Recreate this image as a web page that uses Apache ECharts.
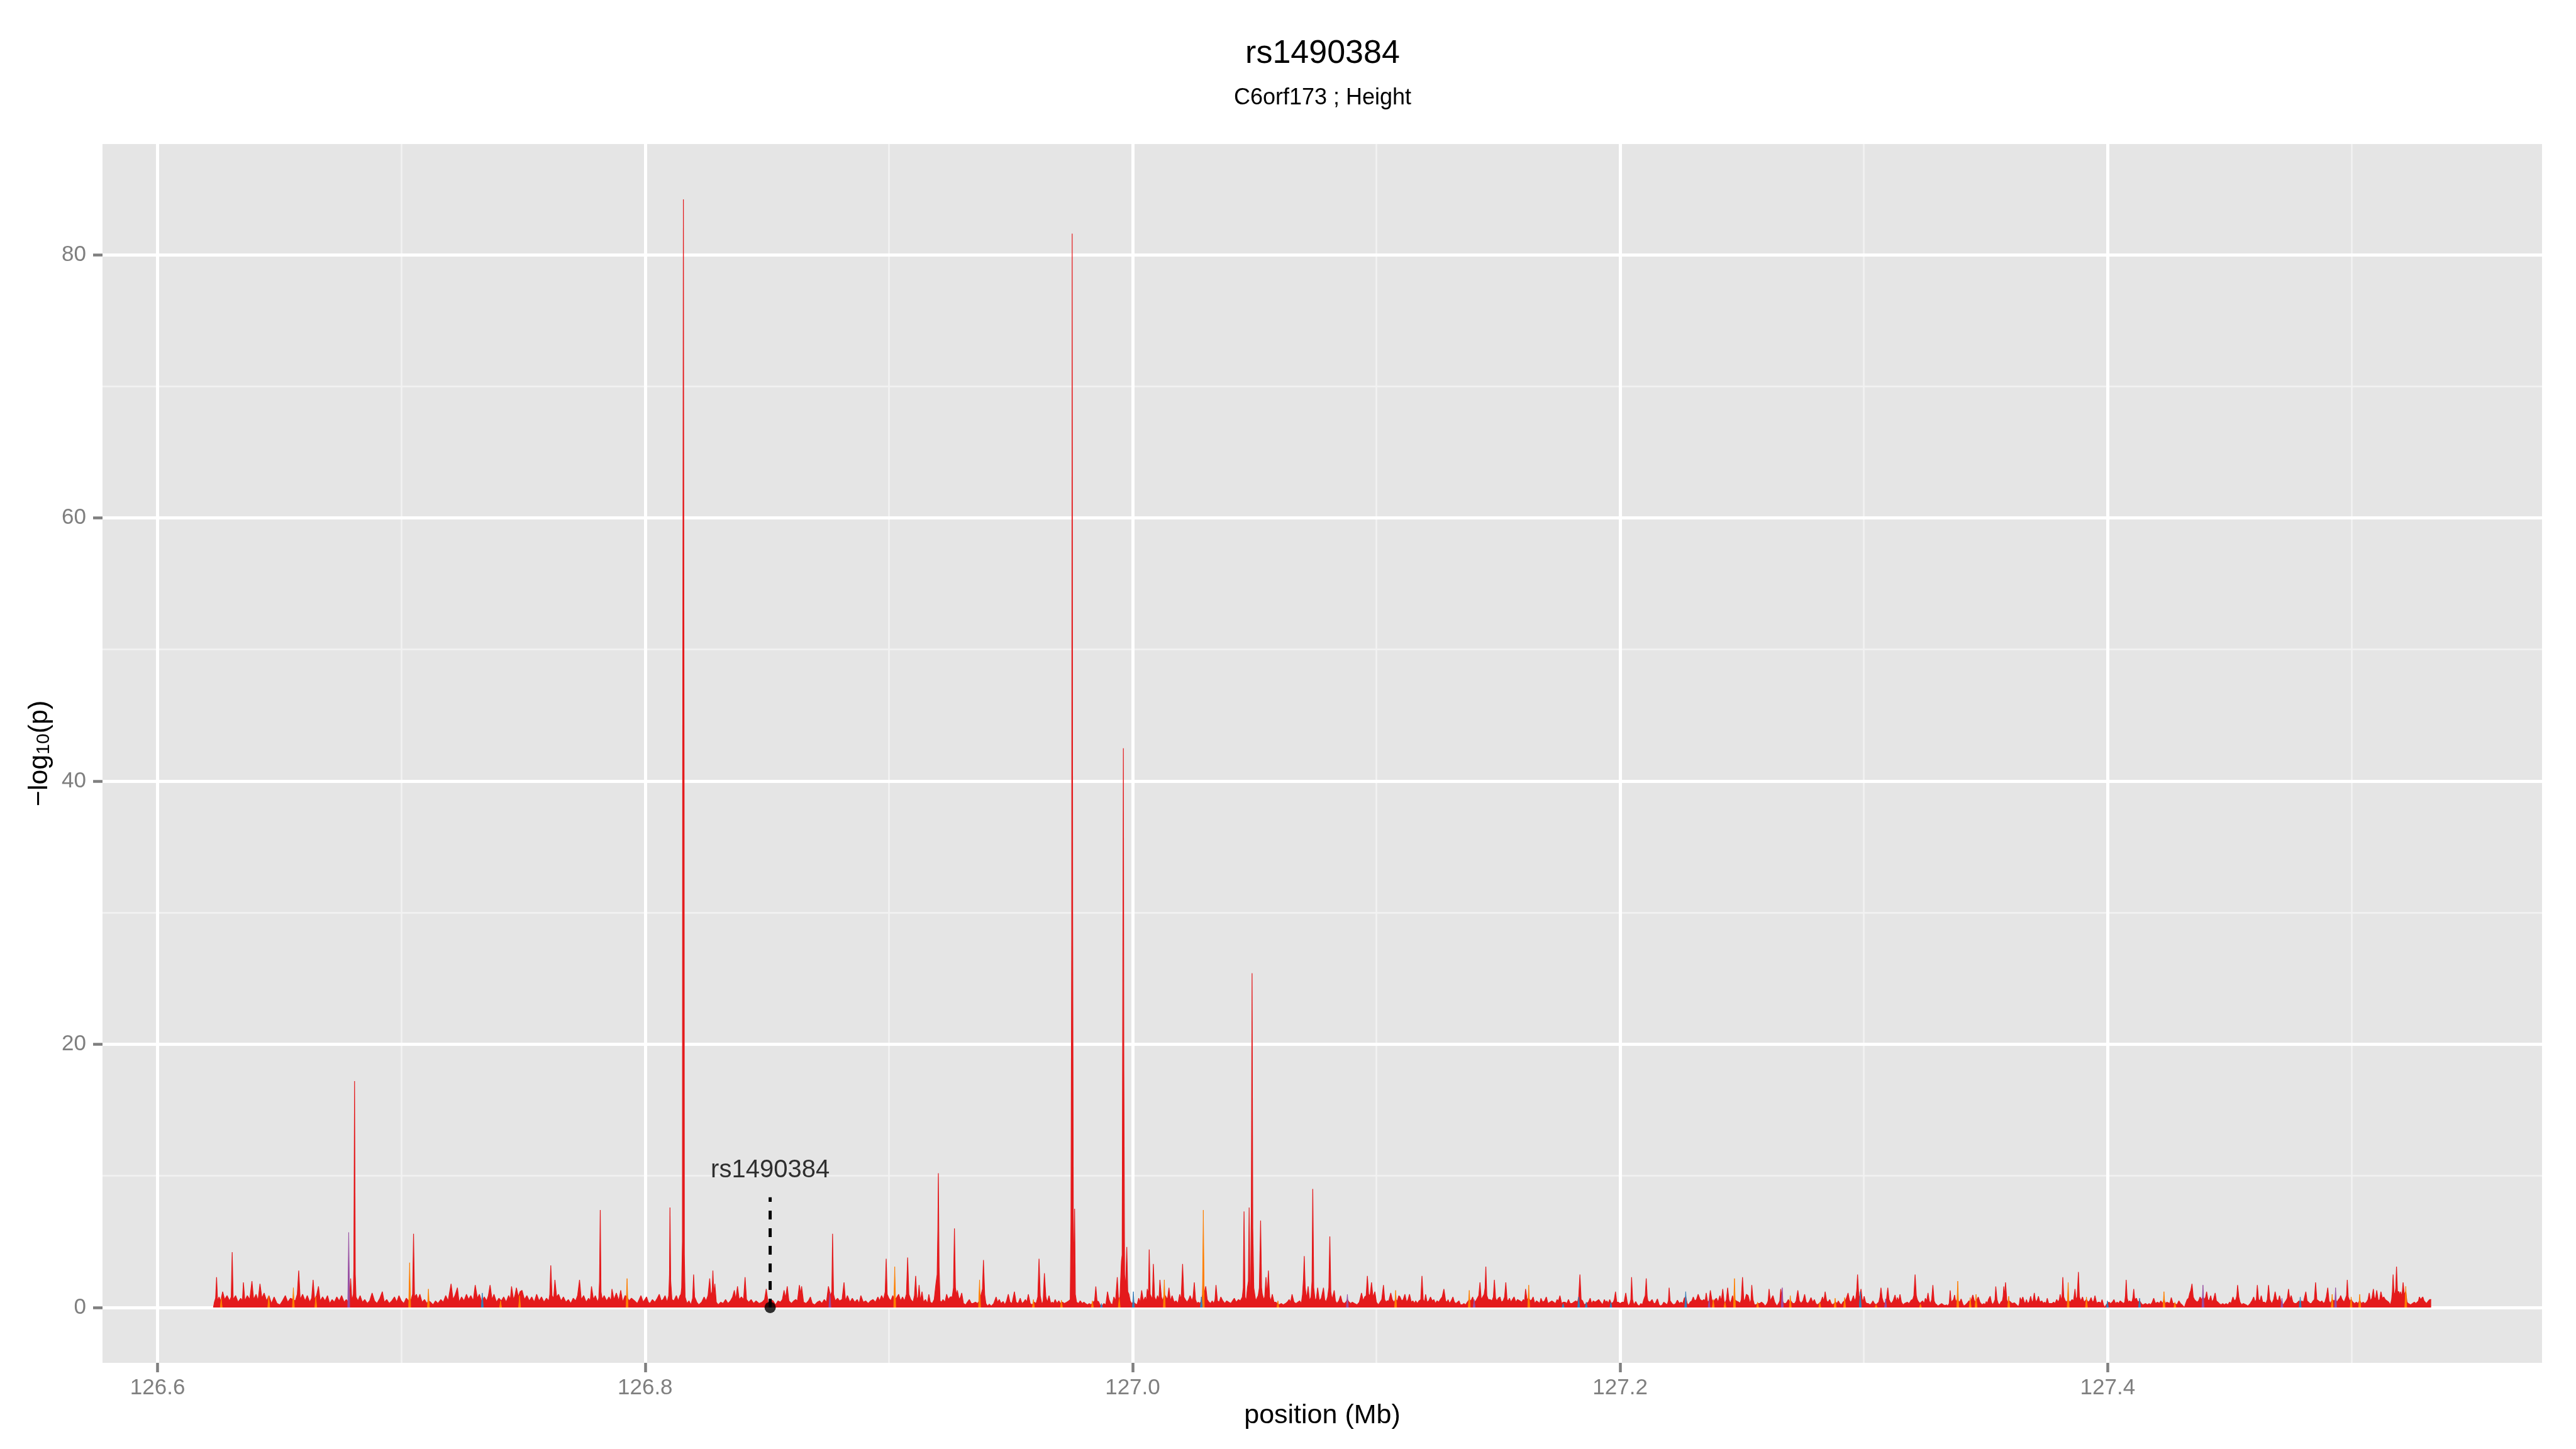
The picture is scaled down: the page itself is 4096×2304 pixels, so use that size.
<!DOCTYPE html>
<html>
<head>
<meta charset="utf-8">
<title>rs1490384</title>
<script src="https://cdn.jsdelivr.net/npm/echarts@6.0.0/dist/echarts.min.js"></script>
<style>
  html, body { margin: 0; padding: 0; background: #ffffff; }
  #chart { width: 4096px; height: 2304px; }
</style>
</head>
<body>
<div id="chart"></div>
<script>
// -log10(p) profile along the region, [position (Mb), -log10(p)]
const red1 = [[126.6229,0],[126.6233,0.4],[126.6238,0.7],[126.6242,2.3],[126.6246,0.5],[126.6252,0.8],[126.6259,0.5],[126.6267,1.2],[126.6275,0.6],[126.6285,0.9],[126.6295,0.5],[126.6302,0.8],[126.6306,4.2],[126.631,0.6],[126.632,0.9],[126.633,0.4],[126.6341,0.7],[126.6348,0.5],[126.6352,1.9],[126.6358,0.5],[126.6368,0.9],[126.6378,0.6],[126.6387,2.0],[126.6394,0.6],[126.6404,1.0],[126.6412,0.5],[126.642,1.8],[126.6428,0.7],[126.6437,1.1],[126.6447,0.5],[126.6457,0.9],[126.6467,0.3],[126.6478,0.8],[126.649,0.3],[126.6502,0.2],[126.6512,0.5],[126.6524,0.9],[126.6534,0.4],[126.6545,0.7],[126.6556,0.6],[126.6565,0.5],[126.6573,1.0],[126.6579,2.8],[126.6585,0.6],[126.6595,1.0],[126.6605,0.5],[126.6614,0.9],[126.6624,0.4],[126.6632,0.7],[126.6638,2.1],[126.6644,0.6],[126.6652,0.9],[126.666,1.6],[126.6667,0.5],[126.6677,0.8],[126.6687,0.5],[126.6697,0.9],[126.6706,0.3],[126.6716,0.6],[126.6725,0.4],[126.6735,0.8],[126.6745,0.5],[126.6755,0.9],[126.6765,0.4],[126.6774,0.6],[126.6783,0.4],[126.6788,0.8],[126.6792,2.2],[126.6797,0.5],[126.6803,1.0],[126.6805,3.0],[126.6808,17.2],[126.6811,2.5],[126.6814,0.8],[126.6822,0.5],[126.6831,0.9],[126.684,0.4],[126.685,0.6],[126.686,0.3],[126.687,0.5],[126.688,1.1],[126.689,0.5],[126.69,0.3],[126.6912,0.7],[126.6922,1.2],[126.693,0.4],[126.694,0.6],[126.695,0.3],[126.6961,0.5],[126.6972,0.8],[126.6981,0.4],[126.699,0.9],[126.7,0.5],[126.701,0.3],[126.702,0.7],[126.703,0.5],[126.704,0.6],[126.7046,1.0],[126.705,5.6],[126.7054,0.8],[126.7062,1.0],[126.7068,0.6],[126.7076,1.0],[126.7085,0.4],[126.7095,0.6],[126.7105,0.3],[126.7112,0.5],[126.712,0.4],[126.713,0.2],[126.714,0.5],[126.715,0.3],[126.7162,0.6],[126.7172,0.4],[126.7182,0.9],[126.7192,0.5],[126.7204,1.8],[126.7212,0.6],[126.722,0.9],[126.723,1.5],[126.7237,0.4],[126.7247,0.8],[126.7257,0.5],[126.7267,1.0],[126.7276,0.6],[126.7285,0.9],[126.7295,0.5],[126.7303,1.7],[126.7312,0.7],[126.732,1.0],[126.733,0.4],[126.734,0.8],[126.735,0.5],[126.7357,0.9],[126.7364,1.7],[126.7372,0.6],[126.738,1.0],[126.739,0.4],[126.74,0.7],[126.741,0.5],[126.742,0.8],[126.743,0.4],[126.744,0.9],[126.7447,0.6],[126.7452,1.6],[126.746,0.6],[126.7466,0.9],[126.7472,1.5],[126.748,0.8],[126.7487,1.2],[126.7495,1.3],[126.7505,0.6],[126.7515,0.9],[126.7525,0.5],[126.7535,0.8],[126.7545,0.4],[126.7555,1.0],[126.7565,0.5],[126.7575,0.8],[126.7585,0.4],[126.7595,0.7],[126.7605,0.5],[126.7609,1.0],[126.7613,3.2],[126.7618,0.9],[126.7625,0.7],[126.763,2.1],[126.7637,0.8],[126.7645,1.0],[126.7655,0.5],[126.7665,0.8],[126.7675,0.4],[126.7685,0.6],[126.7695,0.3],[126.7705,0.7],[126.7715,0.5],[126.7723,0.9],[126.7731,2.1],[126.7738,0.6],[126.7748,0.9],[126.7758,0.4],[126.7768,0.7],[126.7775,0.5],[126.778,1.6],[126.7788,0.6],[126.7796,0.9],[126.7805,0.4],[126.781,0.7],[126.7813,2.0],[126.7816,7.4],[126.7819,1.2],[126.7824,0.6],[126.7832,0.9],[126.7842,0.5],[126.7852,0.8],[126.786,0.5],[126.7864,1.4],[126.7872,0.6],[126.7882,1.1],[126.7892,0.5],[126.79,1.3],[126.7908,0.4],[126.7918,0.9],[126.7926,0.8],[126.7934,0.5],[126.7944,0.7],[126.7957,0.5],[126.7968,0.3],[126.7983,0.9],[126.7992,0.4]];
const red2 = [[126.8006,0.8],[126.8013,0.4],[126.802,0.3],[126.803,0.6],[126.804,0.4],[126.805,0.7],[126.8058,1.0],[126.8066,0.5],[126.8074,0.6],[126.8082,0.9],[126.809,0.4],[126.8097,0.9],[126.81,2.5],[126.8102,7.6],[126.8105,2.0],[126.811,0.6],[126.8118,0.5],[126.8128,0.9],[126.8136,0.5],[126.8143,0.9],[126.8147,1.0],[126.815,1.5],[126.8153,5.0],[126.8154,40],[126.8157,84.2],[126.816,40],[126.8161,4.0],[126.8164,0.8],[126.8172,0.3],[126.818,0.5],[126.8188,0.2],[126.8195,0.7],[126.8199,2.5],[126.8203,0.8],[126.8212,0.4],[126.822,0.2],[126.8232,0.4],[126.8242,0.8],[126.825,0.5],[126.8258,0.9],[126.8265,2.2],[126.827,0.9],[126.8275,1.2],[126.8278,2.8],[126.8282,1.0],[126.8286,1.8],[126.8292,0.4],[126.83,0.2],[126.831,0.4],[126.832,0.3],[126.833,0.6],[126.834,0.3],[126.835,0.5],[126.8359,0.8],[126.8366,1.3],[126.8372,0.6],[126.8379,1.6],[126.8386,0.6],[126.8395,0.8],[126.8404,0.6],[126.841,2.3],[126.8416,0.6],[126.8425,0.4],[126.8435,0.6],[126.8445,0.3],[126.8455,0.5],[126.8468,0.3],[126.848,0.4],[126.849,0.6],[126.8497,1.4],[126.8505,0.3],[126.8515,0.6],[126.8525,0.5],[126.8535,0.2],[126.8545,0.5],[126.8555,0.4],[126.8563,0.6],[126.857,1.3],[126.8576,0.7],[126.8583,1.6],[126.859,0.5],[126.86,0.3],[126.861,0.5],[126.8618,0.6],[126.8625,0.5],[126.8633,1.7],[126.8638,1.0],[126.8642,1.6],[126.865,0.4],[126.866,0.3],[126.867,0.5],[126.8678,0.8],[126.8686,0.3],[126.8696,0.2],[126.8706,0.4],[126.8716,0.5],[126.8725,0.3],[126.8735,0.6],[126.8744,0.4],[126.8752,1.6],[126.876,0.9],[126.8766,1.2],[126.8769,5.6],[126.8773,1.0],[126.878,0.5],[126.879,0.7],[126.8797,0.5],[126.8808,0.6],[126.8816,1.9],[126.8822,0.5],[126.883,0.9],[126.884,0.4],[126.885,0.7],[126.886,0.4],[126.887,0.6],[126.8878,0.3],[126.8885,0.9],[126.8895,0.4],[126.8905,0.5],[126.8915,0.3],[126.8925,0.5],[126.8935,0.6],[126.8945,0.4],[126.8955,0.8],[126.8962,0.5],[126.897,0.9],[126.8978,0.6],[126.8985,1.2],[126.8989,3.7],[126.8993,1.0],[126.9,0.7],[126.9008,0.5],[126.9016,0.9],[126.9022,0.6],[126.903,0.7],[126.904,1.0],[126.9048,0.5],[126.9056,0.8],[126.9064,0.5],[126.9072,1.0],[126.9077,3.8],[126.9082,1.0],[126.909,0.6],[126.9099,0.4],[126.9105,0.9],[126.911,2.4],[126.9115,0.6],[126.912,0.8],[126.9124,1.7],[126.9129,0.5],[126.9136,1.2],[126.9142,0.4],[126.915,0.6],[126.9158,0.3],[126.9164,1.0],[126.917,0.4],[126.9178,0.3],[126.9186,0.6],[126.9193,1.8],[126.9198,2.5],[126.9201,6.0],[126.9203,10.2],[126.9206,3.0],[126.921,0.5],[126.9216,0.4],[126.9222,0.6],[126.923,0.4],[126.9237,1.0],[126.9244,0.6],[126.9252,0.8],[126.926,0.8],[126.9265,1.5],[126.9269,6.0],[126.9273,1.5],[126.9278,0.9],[126.9281,1.3],[126.9288,0.6],[126.9294,0.8],[126.9299,1.1],[126.9306,0.3],[126.9315,0.2],[126.9322,0.4],[126.933,0.6],[126.9338,0.3],[126.9345,0.3],[126.9355,0.4],[126.9364,0.3],[126.9372,0.5],[126.938,1.1],[126.9384,1.4],[126.9388,3.6],[126.9393,1.0],[126.9398,0.3],[126.9405,0.1],[126.9412,0.25],[126.942,0.1],[126.943,0.3],[126.944,0.8],[126.9446,0.4],[126.9453,0.6],[126.946,0.3],[126.9469,0.45],[126.9476,0.2],[126.9483,0.5],[126.949,1.0],[126.9497,0.4],[126.9505,0.3],[126.9515,1.2],[126.9522,0.4],[126.953,0.3],[126.9539,0.7],[126.9546,0.3],[126.9553,0.4],[126.956,0.6],[126.9566,0.4],[126.9572,1.0],[126.958,0.3],[126.9588,0.2],[126.9596,0.4],[126.9604,0.3],[126.9611,0.8],[126.9616,3.7],[126.9621,0.9],[126.9628,0.2],[126.9633,0.5],[126.9638,2.6],[126.9644,0.8],[126.965,0.4],[126.9657,0.9],[126.9664,0.3],[126.967,0.4],[126.9676,0.3],[126.9682,0.6],[126.969,0.3],[126.9697,0.5],[126.9704,0.3],[126.9712,0.4],[126.972,0.3],[126.973,0.4],[126.9738,0.5],[126.9744,0.6],[126.9747,6.5],[126.975,28],[126.9752,81.6],[126.9754,30],[126.9757,3.0],[126.976,5.0],[126.9762,7.5],[126.9765,1.0],[126.977,0.4],[126.9778,0.3],[126.9785,0.5],[126.9793,0.3],[126.98,0.4],[126.9807,0.3],[126.9815,0.2],[126.9822,0.3],[126.983,0.2],[126.9838,0.4],[126.9844,0.5],[126.9849,1.6],[126.9854,0.5],[126.986,0.45],[126.9866,0.2],[126.9874,0.1],[126.9882,0.3],[126.989,0.2],[126.9897,1.2],[126.9903,0.6],[126.991,0.3],[126.9917,0.2],[126.9923,0.8],[126.993,0.5],[126.9937,2.3],[126.9942,0.6],[126.9948,0.8],[126.9954,3.5],[126.9957,4.0],[126.9959,20],[126.9962,42.5],[126.9964,18],[126.9967,2.5],[126.9971,1.5],[126.9976,4.6],[126.998,1.2],[126.9985,1.0],[126.999,0.5],[126.9996,0.3]];
const red3 = [[127.0003,0.4],[127.001,0.3],[127.0018,0.2],[127.0025,0.7],[127.0031,0.4],[127.0037,1.3],[127.0044,0.5],[127.0052,0.8],[127.0056,0.4],[127.006,1.4],[127.0065,1.0],[127.0068,4.4],[127.0072,1.0],[127.0076,1.0],[127.0081,0.6],[127.0085,3.3],[127.009,0.8],[127.0096,0.5],[127.0102,0.9],[127.0108,0.6],[127.0112,2.1],[127.0118,0.8],[127.0124,0.5],[127.013,1.0],[127.0137,0.8],[127.0143,0.6],[127.0149,1.5],[127.0155,0.5],[127.0162,0.9],[127.017,0.4],[127.0178,0.5],[127.0186,0.3],[127.0193,1.0],[127.0199,0.6],[127.0205,3.3],[127.021,0.8],[127.0216,0.6],[127.0223,0.4],[127.023,0.6],[127.0236,0.9],[127.0243,0.5],[127.0248,0.8],[127.0253,1.9],[127.0258,0.6],[127.0264,0.3],[127.0269,0.4],[127.0276,0.3],[127.0282,0.5],[127.0287,1.0],[127.029,3.0],[127.0294,1.0],[127.03,1.6],[127.0306,0.6],[127.0313,0.4],[127.032,0.3],[127.0326,0.5],[127.0333,0.3],[127.0338,0.6],[127.0342,1.7],[127.0348,0.5],[127.0355,0.4],[127.0362,0.8],[127.037,0.5],[127.0378,0.3],[127.0386,0.5],[127.0394,0.4],[127.0403,0.3],[127.041,0.5],[127.0417,0.7],[127.0425,0.4],[127.0434,0.6],[127.0442,0.5],[127.045,0.8],[127.0454,1.5],[127.0457,7.3],[127.0461,0.8],[127.0466,0.5],[127.0471,1.5],[127.0475,2.0],[127.0478,7.6],[127.0481,1.5],[127.0484,1.0],[127.0487,8.0],[127.049,25.4],[127.0493,6.0],[127.0497,1.5],[127.0505,0.5],[127.0515,0.9],[127.052,1.5],[127.0525,6.6],[127.0529,1.5],[127.0532,1.0],[127.0538,0.6],[127.0542,0.8],[127.0547,2.3],[127.0552,0.9],[127.0557,2.8],[127.0562,0.8],[127.0567,0.5],[127.0573,1.0],[127.058,0.4],[127.0587,0.4],[127.0594,0.3],[127.0601,0.2],[127.061,0.3],[127.0618,0.2],[127.0627,0.3],[127.0634,0.4],[127.0642,0.6],[127.0648,0.4],[127.0654,1.0],[127.0662,0.4],[127.067,0.3],[127.0678,0.4],[127.0685,0.5],[127.0692,0.3],[127.0697,1.0],[127.0701,2.2],[127.0704,3.9],[127.0708,1.5],[127.0714,0.7],[127.072,1.6],[127.0726,0.5],[127.0732,0.8],[127.0736,2.0],[127.0739,9.0],[127.0743,1.5],[127.0749,0.5],[127.0754,0.7],[127.0759,1.5],[127.0766,0.5],[127.0774,0.7],[127.0783,1.5],[127.0788,0.6],[127.0793,0.4],[127.08,0.8],[127.0805,1.5],[127.0809,5.4],[127.0813,1.2],[127.0818,0.6],[127.0822,0.9],[127.0827,1.3],[127.0832,0.5],[127.0838,0.3],[127.0846,0.5],[127.0853,0.9],[127.086,0.4],[127.0868,0.3],[127.0875,0.4],[127.0881,0.6],[127.0888,0.4],[127.0895,0.3],[127.0901,0.4],[127.091,0.3],[127.0921,0.2],[127.093,0.4],[127.0939,1.1],[127.0946,0.5],[127.0952,0.8],[127.0958,0.9],[127.0963,2.4],[127.0968,1.0],[127.0974,0.9],[127.098,1.9],[127.0986,0.8],[127.0994,1.2],[127.1,0.4],[127.1008,0.2],[127.1015,0.4],[127.1022,0.6],[127.1029,1.7],[127.1034,0.6],[127.104,0.4],[127.1044,0.5],[127.1051,0.5],[127.1059,1.1],[127.1065,0.6],[127.1072,0.4],[127.1079,0.6],[127.1086,0.5],[127.1092,0.9],[127.1097,0.8],[127.1104,0.5],[127.111,0.6],[127.1117,1.0],[127.1124,0.4],[127.113,0.6],[127.1136,1.0],[127.1143,0.4],[127.115,0.5],[127.1156,0.3],[127.1161,0.5],[127.1168,0.3],[127.1175,0.5],[127.1182,0.6],[127.1187,2.4],[127.1192,0.6],[127.1197,0.4],[127.1202,1.0],[127.1208,0.4],[127.1215,0.5],[127.1222,0.8],[127.1229,0.5],[127.1236,0.6],[127.1242,0.3],[127.1249,0.5],[127.1256,0.4],[127.1262,0.6],[127.127,0.8],[127.1277,1.4],[127.1284,0.5],[127.129,0.4],[127.1294,0.6],[127.13,0.3],[127.1307,0.5],[127.1314,0.8],[127.132,0.4],[127.1326,0.3],[127.1333,0.4],[127.1339,0.5],[127.1345,0.2],[127.1352,0.2],[127.1359,0.3],[127.1366,0.2],[127.1373,0.4],[127.1381,0.6],[127.1388,0.5],[127.1395,0.8],[127.1401,0.4],[127.1408,0.5],[127.1414,0.7],[127.142,0.9],[127.1425,1.9],[127.143,0.6],[127.1436,0.8],[127.1442,1.0],[127.1446,1.5],[127.1449,3.1],[127.1453,0.9],[127.1459,0.6],[127.1467,0.6],[127.1474,0.5],[127.148,0.8],[127.1484,2.1],[127.1489,0.7],[127.1494,0.5],[127.15,0.7],[127.1507,0.8],[127.1513,0.4],[127.152,0.5],[127.1526,0.8],[127.1531,1.9],[127.1536,0.6],[127.1541,0.5],[127.1546,0.7],[127.1552,0.4],[127.1558,0.6],[127.1565,0.8],[127.1572,0.4],[127.1579,0.6],[127.1589,0.5],[127.1596,0.4],[127.1603,0.6],[127.1608,0.5],[127.1612,1.4],[127.1618,0.6],[127.1625,0.7],[127.1632,0.5],[127.1638,0.6],[127.1643,0.8],[127.165,0.3],[127.1657,0.5],[127.1664,0.4],[127.167,0.3],[127.1675,0.7],[127.1682,0.4],[127.169,0.5],[127.1697,0.8],[127.1704,0.3],[127.1712,0.4],[127.172,0.5],[127.1727,0.4],[127.1735,0.3],[127.1741,0.6],[127.1747,0.5],[127.1753,0.9],[127.176,0.3],[127.1767,0.4],[127.1774,0.4],[127.1781,0.3],[127.1788,0.6],[127.1795,0.3],[127.1802,0.3],[127.181,0.4],[127.1818,0.5],[127.1825,0.4],[127.183,0.8],[127.1835,2.5],[127.184,0.6],[127.1846,0.5],[127.1853,0.2],[127.1861,0.3],[127.187,0.4],[127.1877,0.7],[127.1883,0.3],[127.189,0.5],[127.1897,0.4],[127.1905,0.5],[127.1912,0.6],[127.192,0.4],[127.1928,0.2],[127.1935,0.6],[127.1941,0.4],[127.1946,0.5],[127.1951,0.3],[127.1957,0.6],[127.1964,0.3],[127.1972,0.4],[127.1976,0.6],[127.1981,1.2],[127.1986,0.4],[127.1992,0.4]];
const red4 = [[127.2,0.3],[127.2008,0.4],[127.2016,0.4],[127.2023,1.1],[127.2029,0.4],[127.2034,0.1],[127.204,0.3],[127.2044,0.6],[127.2047,2.3],[127.2051,0.6],[127.2056,0.2],[127.2064,0.45],[127.2071,0.2],[127.2078,0.1],[127.2085,0.3],[127.2091,0.2],[127.2097,0.6],[127.2103,0.9],[127.2107,2.2],[127.2111,0.8],[127.2114,0.5],[127.2122,0.4],[127.2131,0.6],[127.2138,0.3],[127.2144,0.3],[127.2153,0.65],[127.216,0.2],[127.2166,0.1],[127.2173,0.2],[127.2179,0.4],[127.2186,0.3],[127.2193,0.2],[127.2198,0.5],[127.2201,1.5],[127.2205,0.5],[127.2213,0.3],[127.222,0.2],[127.2228,0.3],[127.2235,0.55],[127.2243,0.3],[127.225,0.4],[127.2257,0.3],[127.2263,0.7],[127.2269,0.8],[127.2275,0.3],[127.2281,0.2],[127.2287,0.4],[127.2294,0.5],[127.23,0.8],[127.2306,0.5],[127.2313,0.6],[127.232,1.0],[127.2328,0.6],[127.2336,0.5],[127.2344,0.6],[127.2349,0.5],[127.2353,1.1],[127.2359,0.4],[127.2365,0.5],[127.237,1.3],[127.2376,0.6],[127.2382,0.4],[127.2389,0.6],[127.2395,0.7],[127.2402,0.4],[127.2409,0.9],[127.2415,0.5],[127.2421,1.4],[127.2426,0.5],[127.243,0.3],[127.2436,0.6],[127.2441,1.5],[127.2446,0.6],[127.2452,0.3],[127.2457,0.6],[127.2461,0.9],[127.2466,0.5],[127.247,0.6],[127.2476,0.5],[127.2481,0.5],[127.2487,0.4],[127.2492,0.3],[127.2497,0.6],[127.2502,2.3],[127.2507,0.6],[127.2511,0.5],[127.2518,1.0],[127.2525,0.9],[127.2533,0.3],[127.2537,0.6],[127.254,1.7],[127.2545,0.6],[127.2551,0.2],[127.2558,0.2],[127.2564,0.3],[127.2572,0.3],[127.258,0.4],[127.2587,0.3],[127.2595,0.1],[127.2603,0.3],[127.2607,0.5],[127.2611,1.4],[127.2616,0.5],[127.2621,0.5],[127.2627,0.9],[127.2634,0.4],[127.2643,0.1],[127.265,0.3],[127.2655,0.5],[127.2659,1.4],[127.2665,0.5],[127.2672,0.3],[127.2679,0.3],[127.2684,0.4],[127.269,0.6],[127.2695,0.4],[127.27,0.5],[127.2708,0.3],[127.2716,0.3],[127.2722,0.5],[127.2729,1.3],[127.2735,0.5],[127.2742,0.3],[127.275,0.5],[127.2757,1.0],[127.2763,0.4],[127.2771,0.3],[127.2777,0.5],[127.2783,0.75],[127.279,0.4],[127.2797,0.6],[127.2803,0.3],[127.2808,0.2],[127.2816,0.3],[127.2823,0.4],[127.283,0.8],[127.2836,0.5],[127.2841,1.2],[127.2847,0.5],[127.2853,0.4],[127.286,0.6],[127.2866,0.3],[127.2872,0.2],[127.2878,0.3],[127.2884,0.4],[127.289,0.3],[127.2895,0.5],[127.2901,0.3],[127.2908,0.2],[127.2914,0.4],[127.292,0.5],[127.2926,0.6],[127.293,0.8],[127.2935,1.1],[127.294,0.6],[127.2944,0.4],[127.295,0.5],[127.2957,0.9],[127.2962,0.5],[127.2967,0.7],[127.2971,1.4],[127.2974,2.5],[127.2978,1.2],[127.2982,0.6],[127.2988,1.4],[127.2993,0.6],[127.2997,0.5],[127.3001,0.85],[127.3007,0.4],[127.3012,0.3],[127.3018,0.3],[127.3025,0.2],[127.3031,0.3],[127.3037,0.5],[127.3043,0.3],[127.305,0.2],[127.3055,0.3],[127.3061,0.4],[127.3066,0.8],[127.307,1.5],[127.3075,0.7],[127.308,0.4],[127.3085,0.3],[127.3092,0.5],[127.3098,1.5],[127.3103,0.6],[127.3108,0.4],[127.3113,0.3],[127.312,0.5],[127.3128,0.95],[127.3133,0.4],[127.3137,0.75],[127.3143,0.5],[127.3148,1.0],[127.3154,0.4],[127.3161,0.2],[127.3167,0.3],[127.3172,0.3],[127.3178,0.4],[127.3184,0.3],[127.3189,0.4],[127.3194,0.55],[127.32,0.6],[127.3205,0.9],[127.321,2.5],[127.3215,0.9],[127.3219,0.6],[127.3223,0.45],[127.323,0.3],[127.3235,0.4],[127.3241,0.5],[127.3247,0.3],[127.3252,0.7],[127.3258,0.5],[127.3263,1.1],[127.3268,0.5],[127.3273,0.3],[127.3278,0.6],[127.3283,1.7],[127.3288,0.5],[127.3293,0.3],[127.3299,0.2],[127.3304,0.1],[127.3311,0.2],[127.3319,0.3],[127.3326,0.2],[127.3333,0.15],[127.3339,0.2],[127.3344,0.1],[127.335,0.3],[127.3354,1.3],[127.3358,0.4],[127.3363,0.5],[127.3368,0.6],[127.3372,0.95],[127.3377,0.4],[127.3382,0.6],[127.3387,0.5],[127.3393,0.4],[127.3399,0.65],[127.3405,0.3],[127.341,0.1],[127.3417,0.2],[127.3425,0.35],[127.3431,0.5],[127.3436,0.4],[127.3441,0.6],[127.3447,0.95],[127.3453,0.5],[127.346,0.4],[127.3464,0.6],[127.3469,0.8],[127.3476,0.4],[127.3484,0.2],[127.3492,0.3],[127.3497,0.2],[127.3502,0.45],[127.3506,0.3],[127.3511,0.6],[127.3518,0.85],[127.3523,0.4],[127.3528,0.2],[127.3534,0.4],[127.3538,0.6],[127.3541,1.6],[127.3546,0.6],[127.3551,0.3],[127.3557,0.2],[127.3562,0.4],[127.3568,0.5],[127.3571,0.8],[127.3574,1.6],[127.3577,0.8],[127.3581,1.9],[127.3586,0.6],[127.359,0.4],[127.3596,0.5],[127.3602,0.4],[127.3608,0.3],[127.3613,0.3],[127.3618,0.35],[127.3626,0.2],[127.3634,0.05],[127.3638,0.3],[127.3641,0.75],[127.3646,0.5],[127.3652,0.8],[127.3658,0.4],[127.3662,0.3],[127.3667,0.6],[127.3672,0.3],[127.3678,0.4],[127.3684,0.85],[127.369,0.4],[127.3694,0.5],[127.3699,1.1],[127.3703,0.6],[127.3707,0.4],[127.3712,0.6],[127.3716,0.85],[127.3722,0.4],[127.373,0.5],[127.3736,0.3],[127.3741,0.4],[127.3747,0.3],[127.3752,0.7],[127.3758,0.3],[127.3766,0.3],[127.3772,0.3],[127.3778,0.4],[127.3784,0.3],[127.3791,0.6],[127.3797,0.4],[127.3802,0.6],[127.3805,1.0],[127.381,0.5],[127.3813,0.9],[127.3816,2.3],[127.382,0.8],[127.3826,0.5],[127.3832,0.4],[127.3838,0.6],[127.3845,0.4],[127.385,0.5],[127.3854,0.6],[127.386,0.5],[127.3866,1.4],[127.387,0.6],[127.3875,0.8],[127.388,2.7],[127.3884,0.8],[127.389,0.5],[127.3897,0.8],[127.3903,0.4],[127.3908,0.5],[127.3913,0.6],[127.392,0.4],[127.3926,0.5],[127.3932,0.75],[127.3938,0.4],[127.3943,0.5],[127.3948,0.9],[127.3955,0.3],[127.3961,0.4],[127.3967,0.4],[127.3972,0.3],[127.3977,0.6],[127.3983,0.2],[127.3988,0.0],[127.3994,0.2]];
const red5 = [[127.3999,0.3],[127.4005,0.4],[127.4012,0.3],[127.4019,0.4],[127.4026,0.6],[127.4032,0.3],[127.4039,0.4],[127.4045,0.3],[127.4051,0.5],[127.4058,0.4],[127.4065,0.3],[127.407,0.4],[127.4073,0.9],[127.4076,2.1],[127.408,0.7],[127.4085,0.4],[127.409,0.5],[127.4096,0.4],[127.4101,0.5],[127.4104,0.8],[127.4107,1.4],[127.4111,0.6],[127.4118,0.7],[127.4124,0.4],[127.4131,0.5],[127.4138,0.3],[127.4144,0.2],[127.4149,0.2],[127.4156,0.3],[127.4163,0.2],[127.417,0.3],[127.4176,0.2],[127.4183,0.4],[127.4189,0.7],[127.4196,0.3],[127.4205,0.4],[127.4212,0.3],[127.4218,0.5],[127.4225,0.3],[127.4231,0.6],[127.4237,0.3],[127.4243,0.4],[127.4248,0.4],[127.4255,0.3],[127.4261,0.75],[127.4268,0.3],[127.4276,0.3],[127.4284,0.2],[127.4292,0.5],[127.4299,0.3],[127.4305,0.2],[127.431,0.1],[127.4315,0.0],[127.432,0.3],[127.4326,0.6],[127.4332,0.7],[127.4337,1.1],[127.4341,1.3],[127.4346,1.8],[127.4351,0.8],[127.4356,0.6],[127.4361,0.5],[127.4367,0.4],[127.4373,0.5],[127.4379,0.8],[127.4385,0.6],[127.4391,0.8],[127.4397,0.6],[127.4402,0.8],[127.4406,1.2],[127.4411,0.6],[127.4416,0.5],[127.4423,0.9],[127.4428,0.4],[127.4434,0.6],[127.4441,1.1],[127.4446,0.5],[127.4452,0.4],[127.4458,0.3],[127.4465,0.2],[127.4472,0.3],[127.4479,0.2],[127.4486,0.3],[127.4493,0.2],[127.45,0.4],[127.4506,0.3],[127.4514,0.8],[127.452,0.5],[127.4526,0.6],[127.453,0.9],[127.4533,1.7],[127.4538,0.8],[127.4543,0.4],[127.455,0.2],[127.4556,0.3],[127.4561,0.35],[127.4568,0.2],[127.4575,0.1],[127.458,0.2],[127.4585,0.3],[127.4592,0.5],[127.4599,0.8],[127.4605,0.4],[127.461,0.6],[127.4614,1.7],[127.4619,0.6],[127.4625,0.5],[127.463,0.9],[127.4636,0.4],[127.4643,0.4],[127.4649,0.3],[127.4655,0.6],[127.466,1.7],[127.4665,0.6],[127.467,0.4],[127.4674,0.3],[127.4681,0.6],[127.4687,1.2],[127.4693,0.6],[127.47,0.5],[127.4705,0.9],[127.471,0.5],[127.4715,0.3],[127.472,0.2],[127.4725,0.2],[127.4731,0.5],[127.4737,0.7],[127.4742,1.4],[127.4747,0.6],[127.4753,0.9],[127.476,0.4],[127.4767,0.3],[127.4774,0.3],[127.478,0.4],[127.4785,0.5],[127.479,0.3],[127.4796,0.5],[127.4803,0.4],[127.4808,0.8],[127.4813,1.2],[127.4818,0.5],[127.4824,0.4],[127.483,0.3],[127.4836,0.3],[127.4843,0.5],[127.4848,0.6],[127.4853,1.9],[127.4858,0.6],[127.4865,0.5],[127.4872,0.4],[127.4879,0.5],[127.4885,0.3],[127.4891,0.4],[127.4897,0.8],[127.4903,1.5],[127.4908,0.5],[127.4914,0.3],[127.4921,0.6],[127.4928,0.5],[127.4935,0.6],[127.4941,0.4],[127.4947,0.6],[127.4952,0.7],[127.4956,0.9],[127.4962,0.6],[127.497,0.4],[127.4976,0.7],[127.498,0.9],[127.4983,2.1],[127.4987,0.8],[127.4993,0.5],[127.4999,0.6],[127.5006,0.4],[127.5013,0.3],[127.502,0.4],[127.5027,0.3],[127.5034,0.5],[127.5041,0.3],[127.5048,0.4],[127.5055,0.3],[127.5062,0.4],[127.5068,0.6],[127.5073,1.1],[127.5078,0.5],[127.5084,0.7],[127.509,1.4],[127.5095,0.6],[127.51,0.8],[127.5104,1.3],[127.511,0.5],[127.5116,0.6],[127.5121,1.2],[127.5127,0.7],[127.5133,0.8],[127.5139,0.6],[127.5146,0.5],[127.5153,0.4],[127.516,0.2],[127.5165,0.6],[127.5168,1.2],[127.5171,2.5],[127.5175,1.0],[127.5179,1.1],[127.5182,1.5],[127.5185,3.1],[127.5189,1.2],[127.5195,1.2],[127.5199,0.9],[127.5202,1.2],[127.5207,0.8],[127.5212,1.9],[127.5217,1.0],[127.5223,1.2],[127.5228,0.4],[127.5233,0.3],[127.5237,0.3],[127.5243,0.2],[127.525,0.3],[127.5258,0.4],[127.5264,0.3],[127.527,0.4],[127.5275,0.5],[127.5279,0.8],[127.5284,0.6],[127.5288,0.7],[127.5293,0.8],[127.5298,0.5],[127.5303,0.4],[127.5307,0.3],[127.5312,0.4],[127.5316,0.5],[127.5321,0.6],[127.5325,0.6],[127.5327,0.6]];

// SNPs drawn in the other LD colours
const orangePos = [126.6261,126.6456,126.6557,126.6649,126.7034,126.7111,126.7407,126.7485,126.7926,126.9024,126.9372,126.9593,126.9708,126.9835,126.9945,127.013,127.029,127.0596,127.1079,127.1381,127.1625,127.2382,127.243,127.2469,127.2564,127.2698,127.2819,127.2882,127.2921,127.305,127.3232,127.3385,127.3436,127.346,127.3594,127.3838,127.3913,127.4231,127.4276,127.4921,127.4999,127.5034,127.5223];
const orangeVal = [0.7,0.9,1.5,0.8,3.4,1.4,0.5,0.9,2.2,3.1,2.1,0.6,0.55,0.5,0.7,2.1,7.4,0.5,1.3,1.3,1.7,0.6,0.4,2.2,0.4,0.9,0.4,0.7,0.75,0.2,0.25,2.0,0.75,1.0,0.85,1.9,0.8,1.2,0.4,1.0,0.8,1.0,1.6];
const bluePos = [126.7332,126.9872,127.0003,127.0282,127.1766,127.183,127.1861,127.1962,127.2269,127.2985,127.3999,127.4131,127.479];
const blueVal = [1.1,0.3,1.2,0.8,0.3,0.8,0.4,0.4,1.2,1.2,0.5,0.7,0.8];
const purplePos = [126.6784,126.8758,127.0881,127.1401,127.2365,127.2665,127.3089,127.4391,127.4715,127.4935];
const purpleVal = [5.7,1.1,1.0,0.6,0.6,1.5,0.65,1.7,0.7,1.5];

// axes
const xTicks = [126.6, 126.8, 127.0, 127.2, 127.4];
const xMinor = [126.7, 126.9, 127.1, 127.3, 127.5];
const yTicks = [0, 20, 40, 60, 80];
const yMinor = [10, 30, 50, 70];
const X_MIN = 126.5774, X_MAX = 127.5782;
const Y_MIN = -4.21, Y_MAX = 88.41;

// highlighted SNP
const leadSnp = 'rs1490384';
const leadPos = 126.8513;
const leadLogP = 0;
const stemTop = 8.37;
const labelY = 10.4;

const FONT = '"Liberation Sans", Arial, Helvetica, sans-serif';

function spikes(pos, val) {
    const out = [];
    for (let i = 0; i < pos.length; i++) {
        out.push([pos[i] - 0.0004, 0], [pos[i], val[i]], [pos[i] + 0.0004, 0], [pos[i] + 0.0004, '-']);
    }
    return out;
}

function spikeSeries(name, color, data) {
    return {
        name: name, type: 'line', xAxisIndex: 0, yAxisIndex: 0,
        data: data, symbol: 'none', silent: true, connectNulls: false, z: 3,
        lineStyle: {color: color, width: 1},
        areaStyle: {color: color, opacity: 1}
    };
}

const chart = echarts.init(document.getElementById('chart'));
const option = {
    animation: false,
    backgroundColor: '#FFFFFF',
    title: [
        {text: 'rs1490384', left: 2103, top: 60, textAlign: 'center', padding: 0,
         textStyle: {fontFamily: FONT, fontSize: 52, lineHeight: 52, fontWeight: 'normal', color: '#000000'}},
        {text: 'C6orf173 ; Height', left: 2103, top: 138, textAlign: 'center', padding: 0,
         textStyle: {fontFamily: FONT, fontSize: 36, lineHeight: 36, fontWeight: 'normal', color: '#000000'}}
    ],
    grid: {left: 163, right: 54, top: 229, bottom: 137, show: true, backgroundColor: '#E5E5E5', borderWidth: 0},
    xAxis: [
        {
            type: 'value', position: 'bottom', min: X_MIN, max: X_MAX, z: 1,
            name: 'position (Mb)', nameLocation: 'middle', nameGap: 57,
            nameTextStyle: {fontFamily: FONT, fontSize: 43, lineHeight: 43, color: '#000000'},
            axisLine: {show: false, onZero: false},
            axisTick: {show: true, customValues: xTicks, length: 15, lineStyle: {color: '#7F7F7F', width: 4.5}},
            axisLabel: {customValues: xTicks, formatter: v => v.toFixed(1), fontFamily: FONT, fontSize: 35, lineHeight: 35, color: '#7F7F7F', margin: 23},
            splitLine: {show: true, lineStyle: {color: '#FFFFFF', width: 5}}
        },
        {
            type: 'value', position: 'bottom', min: X_MIN, max: X_MAX, z: 0,
            axisLine: {show: false, onZero: false},
            axisTick: {show: false, customValues: xMinor},
            axisLabel: {show: false},
            splitLine: {show: true, lineStyle: {color: '#F2F2F2', width: 2.5}}
        }
    ],
    yAxis: [
        {
            type: 'value', position: 'left', min: Y_MIN, max: Y_MAX, z: 1,
            name: '\u2212log{s|10}(p)', nameLocation: 'middle', nameGap: 78, nameRotate: 90,
            nameTextStyle: {fontFamily: FONT, fontSize: 43, color: '#000000',
                rich: {s: {fontFamily: FONT, fontSize: 30, lineHeight: 14, verticalAlign: 'bottom', color: '#000000'}}},
            axisLine: {show: false, onZero: false},
            axisTick: {show: true, customValues: yTicks, length: 15, lineStyle: {color: '#7F7F7F', width: 4.5}},
            axisLabel: {customValues: yTicks, fontFamily: FONT, fontSize: 35, lineHeight: 35, color: '#7F7F7F', margin: 26},
            splitLine: {show: true, lineStyle: {color: '#FFFFFF', width: 5}}
        },
        {
            type: 'value', position: 'left', min: Y_MIN, max: Y_MAX, z: 0,
            axisLine: {show: false, onZero: false},
            axisTick: {show: false, customValues: yMinor},
            axisLabel: {show: false},
            splitLine: {show: true, lineStyle: {color: '#F2F2F2', width: 2.5}}
        }
    ],
    series: [
        {
            name: 'r2 high', type: 'line', xAxisIndex: 0, yAxisIndex: 0,
            data: red1.concat(red2, red3, red4, red5),
            symbol: 'none', silent: true, z: 2,
            lineStyle: {color: '#E41A1C', width: 1.2},
            areaStyle: {color: '#E41A1C', opacity: 1}
        },
        spikeSeries('r2 mid', '#FF7F00', spikes(orangePos, orangeVal)),
        spikeSeries('r2 low', '#377EB8', spikes(bluePos, blueVal)),
        spikeSeries('r2 none', '#984EA3', spikes(purplePos, purpleVal)),
        {
            name: 'stem', type: 'line', xAxisIndex: 0, yAxisIndex: 0,
            data: [[leadPos, leadLogP], [leadPos, stemTop]],
            symbol: 'none', silent: true, z: 5,
            lineStyle: {color: '#000000', width: 4.9, type: [14, 14]}
        },
        {
            name: 'lead', type: 'scatter', xAxisIndex: 0, yAxisIndex: 0,
            data: [[leadPos, leadLogP]], symbol: 'circle', symbolSize: 18, silent: true, z: 6,
            itemStyle: {color: '#000000'}
        },
        {
            name: 'lead label', type: 'scatter', xAxisIndex: 0, yAxisIndex: 0,
            data: [[leadPos, labelY]], symbolSize: 1, silent: true, z: 6,
            itemStyle: {color: 'rgba(0,0,0,0)'},
            label: {show: true, position: 'inside', formatter: leadSnp, fontFamily: FONT, fontSize: 40, color: '#000000'}
        }
    ]
};
chart.setOption(option);
window.addEventListener('resize', chart.resize);
</script>
</body>
</html>
